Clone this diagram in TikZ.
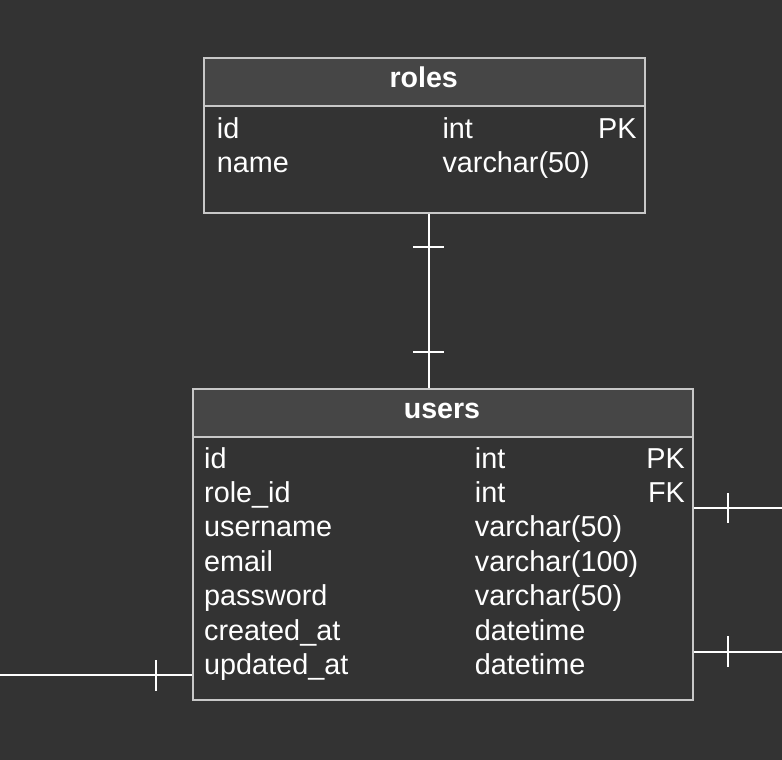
\documentclass[tikz,border=0pt]{standalone}
\usepackage{fontspec}
\setmainfont{Liberation Sans}
\definecolor{bgdark}{HTML}{333333}
\definecolor{hdrfill}{HTML}{464646}
\definecolor{boxgray}{HTML}{C8C8C8}
\begin{document}
\begin{tikzpicture}[x=1pt,y=-1pt,
  hdr/.style={draw=boxgray, line width=2pt, fill=hdrfill, inner sep=0pt, anchor=north west},
  body/.style={draw=boxgray, line width=2pt, fill=bgdark, inner sep=0pt, anchor=north west},
  title/.style={text=white, font=\fontsize{28.6}{34}\selectfont\bfseries, inner sep=0pt, anchor=base},
  fld/.style={text=white, font=\fontsize{28.8}{34}\selectfont, inner sep=0pt, anchor=base west},
  key/.style={text=white, font=\fontsize{28.8}{34}\selectfont, inner sep=0pt, anchor=base east},
  conn/.style={draw=white, line width=2pt},
  tick/.style={draw=white, line width=2pt}]
\fill[bgdark] (0,0) rectangle (782,760);
\useasboundingbox (0,0) rectangle (782,760);

% roles table
\node[body, minimum width=440.7pt, minimum height=106.7pt] (rolesB) at (203.3,105) {};
\node[hdr, minimum width=440.7pt, minimum height=47.7pt] (rolesH) at (203.3,57.3) {};
\node[title] (rolesT) at (423.7,87.7) {roles};
\node[fld] (r1n) at (216.7,138.3) {id};
\node[fld] (r1t) at (442.3,138.3) {int};
\node[key] (r1k) at (636.7,138.3) {PK};
\node[fld] (r2n) at (216.7,172.5) {name};
\node[fld] (r2t) at (442.3,172.5) {varchar(50)};

% users table
\node[body, minimum width=500.6pt, minimum height=263.3pt] (usersB) at (191.7,436) {};
\node[hdr, minimum width=500.6pt, minimum height=47.7pt] (usersH) at (191.7,388.3) {};
\node[title] (usersT) at (442,418.3) {users};
\node[fld] (u1n) at (204,468) {id};
\node[fld] (u1t) at (474.7,468) {int};
\node[key] (u1k) at (685,468) {PK};
\node[fld] (u2n) at (204,502.4) {role\_id};
\node[fld] (u2t) at (474.7,502.4) {int};
\node[key] (u2k) at (685,502.4) {FK};
\node[fld] (u3n) at (204,536.8) {username};
\node[fld] (u3t) at (474.7,536.8) {varchar(50)};
\node[fld] (u4n) at (204,571.2) {email};
\node[fld] (u4t) at (474.7,571.2) {varchar(100)};
\node[fld] (u5n) at (204,605.6) {password};
\node[fld] (u5t) at (474.7,605.6) {varchar(50)};
\node[fld] (u6n) at (204,640) {created\_at};
\node[fld] (u6t) at (474.7,640) {datetime};
\node[fld] (u7n) at (204,674.4) {updated\_at};
\node[fld] (u7t) at (474.7,674.4) {datetime};

% connector roles -> users
\coordinate (rx) at (428.7,0);
\draw[conn] (rolesB.south -| rx) -- (usersH.north -| rx);
\draw[tick] (413.3,246.7) -- (444,246.7);
\draw[tick] (413.3,352.3) -- (444,352.3);

% right connectors
\coordinate (e1) at (782,508.3);
\coordinate (e2) at (782,651.7);
\draw[conn] (usersB.east |- e1) -- (e1);
\draw[conn] (usersB.east |- e2) -- (e2);
\draw[tick] (727.7,493) -- (727.7,523.3);
\draw[tick] (727.7,636) -- (727.7,666.7);

% left connector
\coordinate (w1) at (0,675);
\draw[conn] (w1) -- (usersB.west |- w1);
\draw[tick] (155.7,660) -- (155.7,690.7);
\end{tikzpicture}
\end{document}
